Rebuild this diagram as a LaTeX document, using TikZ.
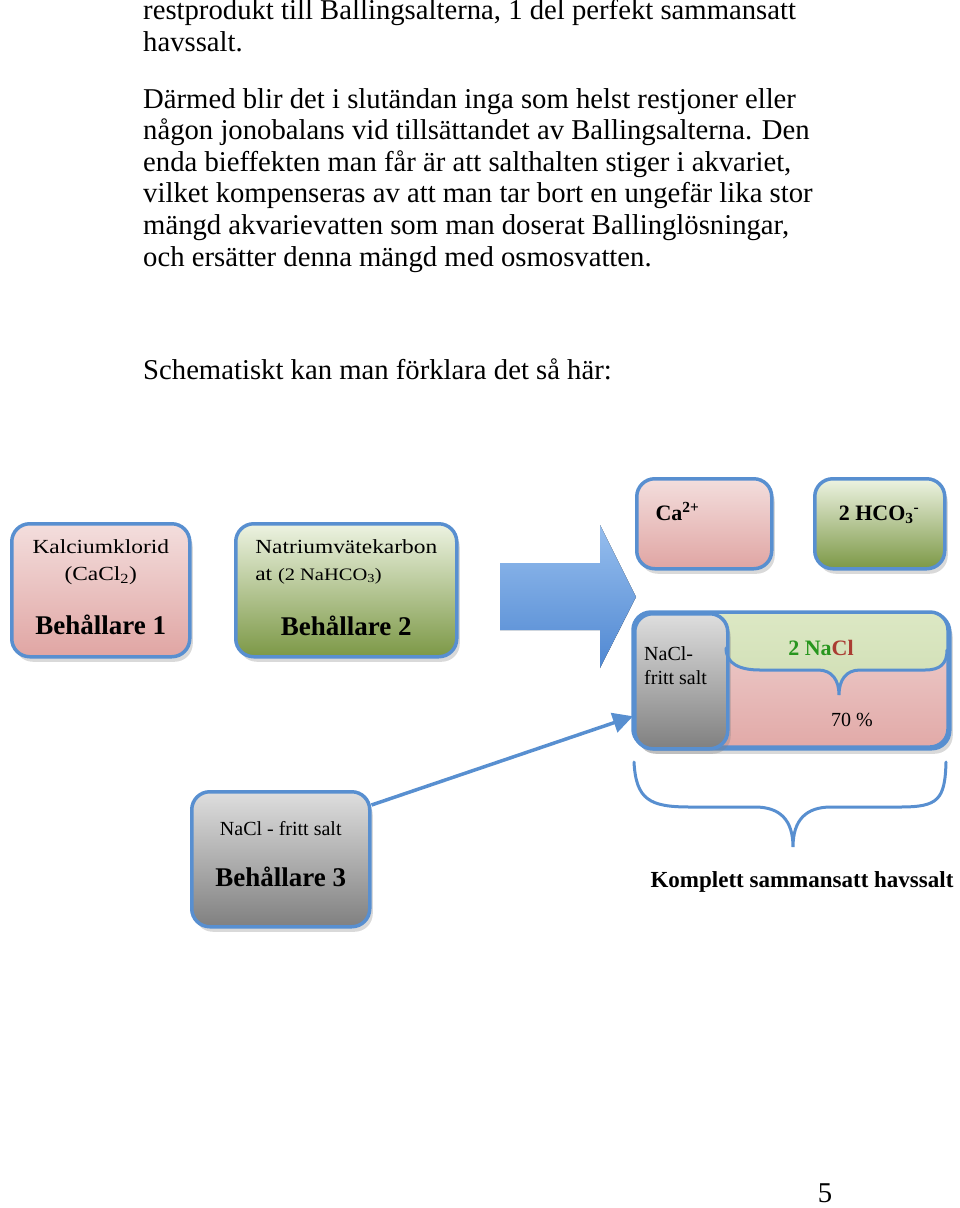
\documentclass[tikz,border=0pt]{standalone}
\usepackage{fontspec}
\setmainfont{Liberation Serif}
\newfontfamily\bredfont[FakeStretch=1.17]{Liberation Serif}
\usetikzlibrary{shadows,arrows.meta}

\definecolor{rambla}{RGB}{88,143,208}
\definecolor{rosatop}{RGB}{243,222,221}
\definecolor{rosabot}{RGB}{224,165,163}
\definecolor{grontop}{RGB}{237,243,226}
\definecolor{gronbot}{RGB}{124,152,70}
\definecolor{gratop}{RGB}{222,222,222}
\definecolor{grabot}{RGB}{128,128,128}
\definecolor{piltop}{RGB}{150,190,238}
\definecolor{pilbot}{RGB}{80,136,210}
\definecolor{bandtop}{RGB}{220,232,196}
\definecolor{bandbot}{RGB}{208,222,180}
\definecolor{naclgron}{RGB}{40,150,30}
\definecolor{naclrod}{RGB}{170,60,50}

\newcommand{\rundning}{18pt}
\newcommand{\brodtext}{\fontsize{28.7}{31.6}\selectfont}
\newcommand{\smastil}{\fontsize{20}{27}\selectfont}
\newcommand{\storstil}{\fontsize{27}{30}\selectfont\bfseries}
\newcommand{\djup}[1]{\rule[-#1]{0pt}{#1}}
\tikzset{behbox/.style={draw=rambla, line width=3.5pt, rounded corners=\rundning, anchor=north west, inner sep=0pt, align=center, drop shadow={shadow xshift=3pt, shadow yshift=-5pt, opacity=0.3}}}
\tikzset{rosa/.style={top color=rosatop, bottom color=rosabot}}
\tikzset{gron/.style={top color=grontop, bottom color=gronbot}}
\tikzset{gra/.style={top color=gratop, bottom color=grabot}}
\tikzset{klammer/.style={draw=rambla, line width=3pt, line cap=round}}
\tikzset{liten/.style={font=\fontsize{20}{24}\selectfont}}

\begin{document}
\begin{tikzpicture}[x=1pt, y=-1pt]
\useasboundingbox (0,0) rectangle (960,1208);

% brodtext (base = sista raden)
\node[anchor=base west, align=left, font=\brodtext, inner sep=0pt] (stycke1) at (143,51)
  {restprodukt till Ballingsalterna, 1 del perfekt sammansatt\\havssalt.};
\node[anchor=base west, align=left, font=\brodtext, inner sep=0pt] (stycke2) at (143,266)
  {Därmed blir det i slutändan inga som helst restjoner eller\\
   någon jonobalans vid tillsättandet av Ballingsalterna. Den\\
   enda bieffekten man får är att salthalten stiger i akvariet,\\
   vilket kompenseras av att man tar bort en ungefär lika stor\\
   mängd akvarievatten som man doserat Ballinglösningar,\\
   och ersätter denna mängd med osmosvatten.};
\node[anchor=base west, font=\brodtext, inner sep=0pt] (schema) at (143,379)
  {Schematiskt kan man förklara det så här:};

% behallare
\node[behbox, rosa, minimum width=178pt, minimum height=133pt, font=\smastil\bredfont] (beh1) at (10,522)
  {Kalciumklorid\\(CaCl\textsubscript{2})\\[27pt]\storstil\rmfamily Behållare 1\djup{6pt}};
\node[behbox, gron, minimum width=221pt, minimum height=133pt, font=\smastil\bredfont] (beh2) at (234,522)
  {\begin{tabular}{@{}l@{}}Natriumvätekarbon\\at {\fontsize{17.5}{20}\selectfont(2 NaHCO\textsubscript{3})}\end{tabular}\\[26pt]\storstil\rmfamily Behållare 2\djup{11pt}};
\node[behbox, gra, minimum width=178pt, minimum height=135pt, font=\smastil] (beh3) at (190,790)
  {NaCl - fritt salt\\[24pt]\storstil Behållare 3\djup{10pt}};

% stor pil
\fill[top color=piltop, bottom color=pilbot] (500,563) -- (600,563) -- (600,525) -- (636,597)
  -- (600,668) -- (600,630) -- (500,630) -- cycle;

% joner
\node[behbox, rosa, minimum width=135pt, minimum height=90pt] (ca) at (635,477) {};
\node[anchor=base west, font=\fontsize{22}{26}\selectfont\bfseries] (catext) at (652,520) {Ca\textsuperscript{2+}};
\node[behbox, gron, minimum width=130pt, minimum height=90pt] (hco) at (813,477) {};
\node[anchor=base, font=\fontsize{22}{26}\selectfont\bfseries] (hcotext) at (879,520) {2 HCO\textsubscript{3}\textsuperscript{-}};

% havssalt
\node[behbox, fill=rosabot!85!white, minimum width=315pt, minimum height=135pt] (havssalt) at (633,612) {};
\begin{scope}
  \clip[rounded corners=\rundning] (633,612) rectangle (948,747);
  \fill[top color=rosatop!80!rosabot, bottom color=rosabot!95!white] (700,612) rectangle (948,747);
  \fill[top color=bandtop, bottom color=bandbot]
    (700,612) -- (948,612) -- (947,650) .. controls (947,664) and (940,670) .. (925,670) -- (860,670)
    .. controls (846,670) and (839,680) .. (839,695) .. controls (839,680) and (832,670) .. (818,670)
    -- (760,670) .. controls (740,670) and (726,664) .. (726,648) -- (700,648) -- cycle;
\end{scope}
\draw[draw=rambla, line width=3.5pt, rounded corners=\rundning] (633,612) rectangle (948,747);
\node[behbox, gra, minimum width=93pt, minimum height=135pt] (nacl) at (633,612) {};
\node[anchor=base west, align=left, inner sep=0pt, liten] (nacltext) at (644,684) {NaCl-\\fritt salt};
\draw[klammer] (726,648) .. controls (726,664) and (740,670) .. (760,670) -- (818,670)
  .. controls (832,670) and (839,680) .. (839,695) .. controls (839,680) and (846,670) .. (860,670)
  -- (925,670) .. controls (940,670) and (947,664) .. (947,650);
\node[anchor=base, font=\fontsize{22}{26}\selectfont\bfseries] (natext) at (821,655)
  {\textcolor{naclgron}{2 Na}\textcolor{naclrod}{Cl}};
\node[anchor=base, liten] (procent) at (852,726) {70 \%};

% stor klammer
\draw[klammer] (634,762) .. controls (636,800) and (650,807) .. (690,807) -- (755,807)
  .. controls (780,807) and (793,820) .. (793,847) .. controls (793,820) and (806,807) .. (831,807)
  -- (900,807) .. controls (938,807) and (945,800) .. (946,762);
\node[anchor=base, font=\fontsize{23}{26}\selectfont\bfseries] (komplett) at (802,887) {Komplett sammansatt havssalt};

% pil fran behallare 3
\draw[draw=rambla, line width=3.5pt, -{Triangle[length=20pt,width=20pt]}] ([yshift=-15pt]beh3.north east) -- ([yshift=-35pt]nacl.west);

% sidnummer
\node[anchor=base, font=\brodtext] (sida) at (825,1202) {5};
\end{tikzpicture}
\end{document}
